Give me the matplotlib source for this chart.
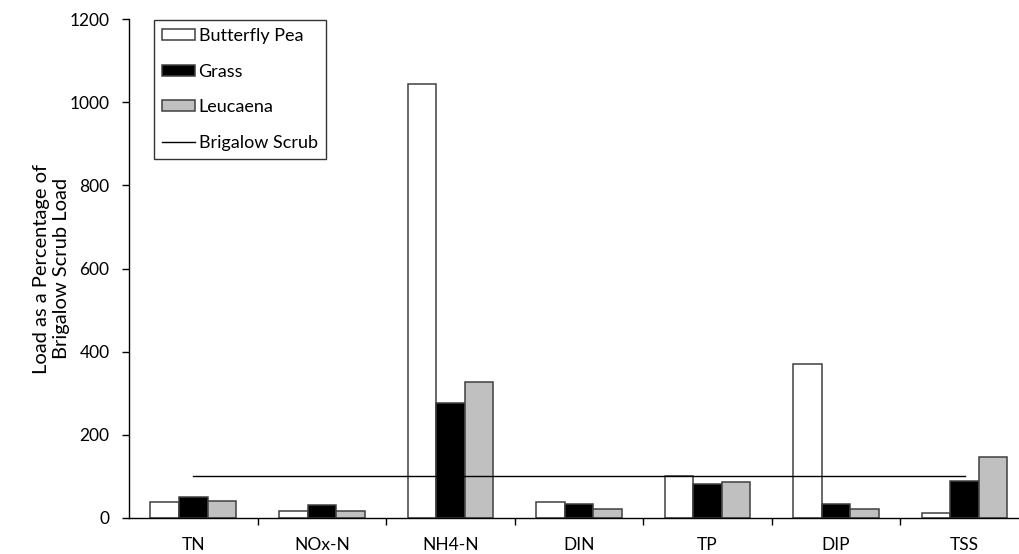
import matplotlib
matplotlib.use("Agg")
import matplotlib.pyplot as plt
import numpy as np

categories = ["TN", "NOx-N", "NH4-N", "DIN", "TP", "DIP", "TSS"]
butterfly_pea = [38, 16, 1043, 38, 101, 370, 13]
grass = [50, 31, 276, 34, 81, 34, 90]
leucaena = [42, 16, 326, 21, 86, 21, 147]
brigalow = [100] * len(categories)
series_labels = ["Butterfly Pea", "Grass", "Leucaena", "Brigalow Scrub"]
yticks = [0, 200, 400, 600, 800, 1000, 1200]

plt.rcParams['font.family'] = ['Lato', 'DejaVu Sans']

W, H = 1019, 554
fig = plt.figure(figsize=(W / 100, H / 100), dpi=100)
left, bottom, top = 129, 518, 19
cat_w = 128.55
ax = fig.add_axes([left / W, 1 - bottom / H, 7 * cat_w / W, (bottom - top) / H])

x = np.arange(len(categories))
bw = 0.222
edge = '#404040'
b1 = ax.bar(x - bw, butterfly_pea, bw, color='white', edgecolor=edge, linewidth=1.1, label=series_labels[0], zorder=2)
b2 = ax.bar(x, grass, bw, color='black', edgecolor=edge, linewidth=1.1, label=series_labels[1], zorder=2)
b3 = ax.bar(x + bw, leucaena, bw, color='#c0c0c0', edgecolor=edge, linewidth=1.1, label=series_labels[2], zorder=2)
ln, = ax.plot(x, brigalow, color='black', linewidth=1.0, label=series_labels[3], zorder=3)

ax.set_xlim(-0.5, len(categories) - 0.5)
ax.set_ylim(0, 1200)
ax.set_yticks(yticks)
ax.set_yticklabels([str(v) for v in yticks], fontsize=12.5)
ax.set_xticks(np.arange(len(categories) - 1) + 0.5)
ax.set_xticklabels([])
ax.set_xticks(x, minor=True)
ax.set_xticklabels(categories, minor=True, fontsize=12.5)
ax.tick_params(axis='x', which='major', direction='out', length=5, width=1)
ax.tick_params(axis='x', which='minor', length=0, pad=14)
ax.tick_params(axis='y', direction='out', length=5, width=1, pad=9)
for s in ['top', 'right']:
    ax.spines[s].set_visible(False)
for s in ['left', 'bottom']:
    ax.spines[s].set_linewidth(1.0)
    ax.spines[s].set_color('black')

ax.set_ylabel("Load as a Percentage of\nBrigalow Scrub Load", fontsize=14.5, linespacing=1.2)
ax.yaxis.set_label_coords(-(129 - 70) / (7 * cat_w), 0.5)

leg = ax.legend(handles=[b1, b2, b3, ln], loc='upper left',
                bbox_to_anchor=(154 / W, 1 - 20 / H), bbox_transform=fig.transFigure,
                borderaxespad=0, fancybox=False, frameon=True, edgecolor='black',
                fontsize=13, labelspacing=1.08, handlelength=1.8, handleheight=0.6,
                handletextpad=0.22, borderpad=0.45)
leg.get_frame().set_linewidth(1.0)

fig.savefig("out.png", dpi=100)
